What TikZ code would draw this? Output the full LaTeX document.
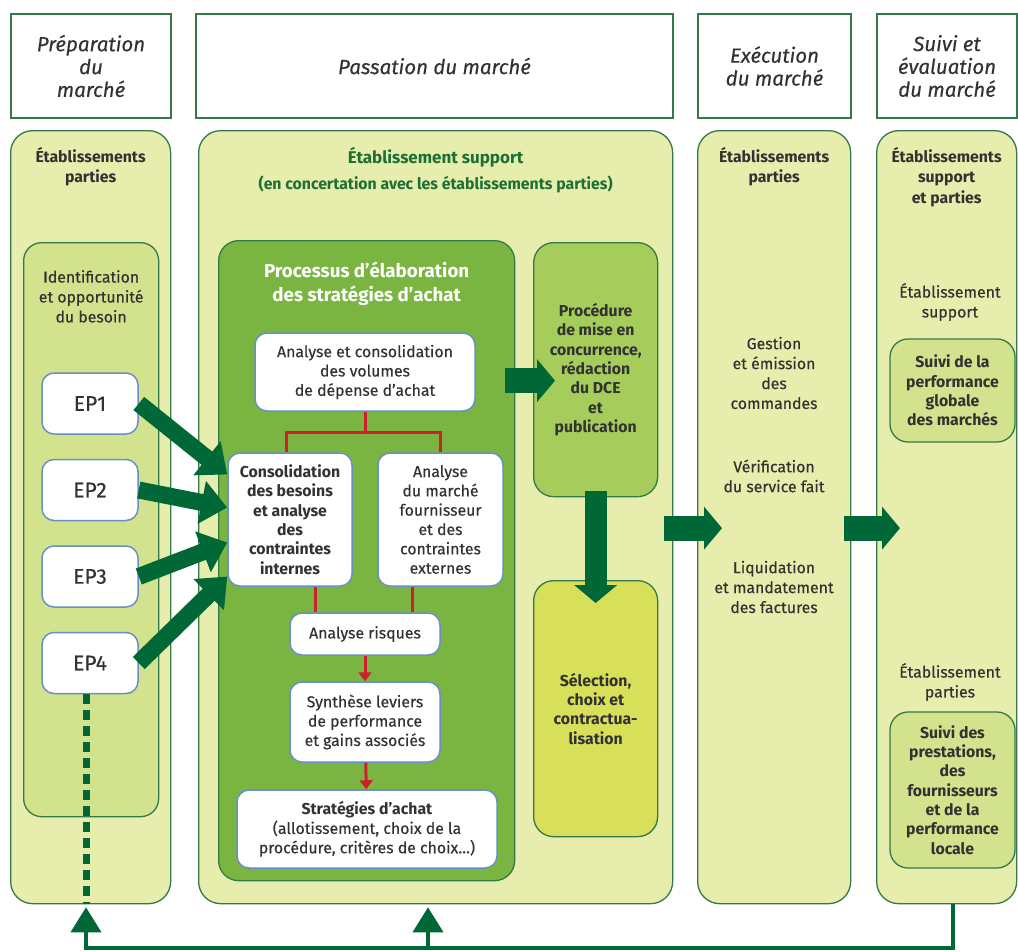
\documentclass[tikz,border=0pt]{standalone}
\usepackage{fontspec}
\setmainfont{Fira Sans}[UprightFeatures={FakeBold=0.35}, ItalicFeatures={FakeBold=0.35}]
\usetikzlibrary{positioning, arrows.meta}
\newlength\pxu
\setlength\pxu{0.03cm}
\definecolor{lanefill}{RGB}{231,237,172}
\definecolor{innerfill}{RGB}{211,226,140}
\definecolor{procfill}{RGB}{122,181,66}
\definecolor{callfill}{RGB}{166,205,92}
\definecolor{selfill}{RGB}{216,224,90}
\definecolor{edgegreen}{RGB}{52,122,72}
\definecolor{arrowgreen}{RGB}{0,104,55}
\definecolor{titlegreen}{RGB}{28,112,52}
\definecolor{boxblue}{RGB}{104,144,196}
\definecolor{linkred}{RGB}{204,32,44}
\definecolor{ink}{RGB}{50,50,50}
\tikzset{
x=1\pxu, y=-1\pxu, % one unit = one pixel of the layout, y runs down
phase/.style={draw=edgegreen, line width=2\pxu, fill=white, anchor=north west, align=center, text=ink, font=\itshape\fontsize{17.5}{19.5}\selectfont}, % header boxes
lane/.style={draw=edgegreen, line width=1.3\pxu, fill=lanefill, rounded corners=22\pxu, anchor=north west}, % the four columns
inlane/.style={draw=edgegreen, line width=1.3\pxu, fill=innerfill, rounded corners=18\pxu, align=center, text=ink, font=\bfseries\fontsize{13.5}{16.5}\selectfont},
lanetitle/.style={font=\bfseries\fontsize{13.5}{17.5}\selectfont, text=ink, align=center, inner sep=0pt},
plain/.style={font=\fontsize{13.5}{17}\selectfont, text=ink, align=center, inner sep=0pt},
task/.style={draw=boxblue, line width=1.5\pxu, fill=white, rounded corners=12\pxu, align=center, text=ink, font=\fontsize{13.5}{16.5}\selectfont, inner sep=2pt},
epbox/.style={task, minimum width=96\pxu, minimum height=61\pxu, font=\fontsize{18}{20}\selectfont},
bigarrow/.style={draw=arrowgreen, line width=25\pxu, -{Triangle[width=1.26cm, length=0.54cm]}},
eparrow/.style={draw=arrowgreen, line width=17\pxu, -{Triangle[width=1.26cm, length=0.78cm]}},
redline/.style={draw=linkred, line width=3\pxu},
redarrow/.style={redline, -{Triangle[width=0.39cm, length=0.27cm]}},
fbline/.style={draw=arrowgreen, line width=4\pxu},
fbarrow/.style={fbline, -{Triangle[width=0.9cm, length=0.75cm]}},
}
\begin{document}
\begin{tikzpicture}
\useasboundingbox (0,0) rectangle (1018,951);

% phases
\node[phase, minimum width=160\pxu, minimum height=104\pxu] (ph1) at (10,13) {Préparation\\du\\marché};
\node[phase, minimum width=477\pxu, minimum height=104\pxu] (ph2) at (195,13) {Passation du marché};
\node[phase, minimum width=153\pxu, minimum height=104\pxu] (ph3) at (697,13) {Exécution\\du marché};
\node[phase, minimum width=140\pxu, minimum height=104\pxu] (ph4) at (876,13) {Suivi et\\évaluation\\du marché};

% columns
\node[lane, minimum width=160\pxu, minimum height=773\pxu] (lane1) at (10,130) {};
\node[lane, minimum width=474\pxu, minimum height=773\pxu] (lane2) at (198,130) {};
\node[lane, minimum width=153\pxu, minimum height=773\pxu] (lane3) at (697,130) {};
\node[lane, minimum width=140\pxu, minimum height=773\pxu] (lane4) at (876,130) {};

\node[lanetitle, below=17\pxu of lane1.north] {Établissements\\parties};
\node[lanetitle, text=titlegreen, below=17\pxu of lane2.north, font=\bfseries\fontsize{14.5}{22}\selectfont] {Établissement support\\\fontsize{13.5}{14}\selectfont(en concertation avec les établissements parties)};
\node[lanetitle, below=17\pxu of lane3.north] {Établissements\\parties};
\node[lanetitle, below=17\pxu of lane4.north] {Établissements\\support\\et parties};

% preparation
\node[inlane, anchor=north west, minimum width=135\pxu, minimum height=574\pxu] (need) at (23,242) {};
\node[plain, below=28\pxu of need.north, font=\fontsize{13.5}{17}\selectfont] {Identification\\et opportunité\\du besoin};
\node[epbox] (ep1) at (90,403.5) {EP1};
\node[epbox, below=24\pxu of ep1] (ep2) {EP2};
\node[epbox, below=24\pxu of ep2] (ep3) {EP3};
\node[epbox, below=24\pxu of ep3] (ep4) {EP4};

% strategy process
\node[draw=edgegreen, line width=1.3\pxu, fill=procfill, rounded corners=20\pxu, anchor=north west, minimum width=296\pxu, minimum height=640\pxu] (proc) at (218,240) {};
\node[lanetitle, text=white, below=22\pxu of proc.north, font=\bfseries\fontsize{16}{20}\selectfont] {Processus d’élaboration\\des stratégies d’achat};
\node[task, minimum width=220\pxu, minimum height=78\pxu] (volumes) at (365,372) {Analyse et consolidation\\des volumes\\de dépense d’achat};
\node[task, minimum width=124\pxu, minimum height=133\pxu, font=\bfseries\fontsize{13.5}{16.5}\selectfont] (cons) at (290,519.5) {Consolidation\\des besoins\\et analyse\\des\\contraintes\\internes};
\node[task, minimum width=125\pxu, minimum height=133\pxu] (market) at (440.5,519.5) {Analyse\\du marché\\fournisseur\\et des\\contraintes\\externes};
\node[task, minimum width=150\pxu, minimum height=42\pxu] (risk) at (365,634) {Analyse risques};
\node[task, minimum width=150\pxu, minimum height=80\pxu] (synth) at (365,722) {Synthèse leviers\\de performance\\et gains associés};
\node[task, minimum width=260\pxu, minimum height=78\pxu] (strat) at (367,829) {\textbf{Stratégies d’achat}\\(allotissement, choix de la\\procédure, critères de choix…)};

% tender and award
\node[inlane, fill=callfill, anchor=north west, minimum width=124\pxu, minimum height=254\pxu, rounded corners=20\pxu] (call) at (533,242) {Procédure\\de mise en\\concurrence,\\rédaction\\du DCE\\et\\publication};
\node[inlane, fill=selfill, anchor=north west, minimum width=124\pxu, minimum height=256\pxu, rounded corners=20\pxu] (award) at (533,580) {Sélection,\\choix et\\contractua-\\lisation};

% execution
\node[plain] (orders) at (774,373) {Gestion\\et émission\\des\\commandes};
\node[plain] (check) at (774,476) {Vérification\\du service fait};
\node[plain] (pay) at (774,587) {Liquidation\\et mandatement\\des factures};

% follow-up
\node[plain] (sup) at (950,302) {Établissement\\support};
\node[inlane, minimum width=125\pxu, minimum height=103\pxu] (global) at (952.5,390.5) {Suivi de la\\performance\\globale\\des marchés};
\node[plain] (par) at (950,682) {Établissement\\parties};
\node[inlane, minimum width=125\pxu, minimum height=156\pxu] (local) at (952.5,790) {Suivi des\\prestations,\\des\\fournisseurs\\et de la\\performance\\locale};

% red links
\draw[redline] (volumes.south) -- ++(0,21) coordinate (split);
\draw[redline] (split) -| ([xshift=-4\pxu]cons.north);
\draw[redline] (split) -| (market.north);
\draw[redline] ([xshift=25\pxu]cons.south) -- ([xshift=25\pxu]cons.south |- risk.north);
\draw[redline] ([xshift=-28\pxu]market.south) -- ([xshift=-28\pxu]market.south |- risk.north);
\draw[redarrow] (risk) -- (synth);
\draw[redarrow] (synth) -- (strat);

% big arrows
\draw[eparrow] (ep1.east) -- ([yshift=45\pxu]cons.west);
\draw[eparrow] (ep2.east) -- ([yshift=12\pxu]cons.west);
\draw[eparrow] (ep3.east) -- ([yshift=-23\pxu]cons.west);
\draw[eparrow] (ep4.east) -- ([yshift=-57\pxu]cons.west);
\draw[bigarrow] ([shift={(-28\pxu,-11\pxu)}]call.west) -- ([shift={(22\pxu,-11\pxu)}]call.west);
\draw[bigarrow, line width=22\pxu] ([yshift=6\pxu]call.south) -- ([yshift=-23\pxu]award.north);
\draw[bigarrow] ([shift={(-9\pxu,-11\pxu)}]lane2.east) -- ([shift={(25\pxu,-11\pxu)}]lane3.west);
\draw[bigarrow] ([shift={(-7\pxu,-11\pxu)}]lane3.east) -- ([shift={(24\pxu,-11\pxu)}]lane4.west);

% feedback
\draw[draw=arrowgreen, line width=7\pxu, dash pattern=on 10\pxu off 6\pxu] ([xshift=-4\pxu]ep4.south) -- ([xshift=-4\pxu]ep4.south |- lane1.south);
\coordinate (fb) at (0,948);
\coordinate (up2) at (428,948);
\draw[fbarrow] ([xshift=6\pxu]lane4.south) |- ([xshift=-4\pxu]fb -| ep4.south) -- ([xshift=-4\pxu, yshift=-3\pxu]ep4.south |- lane1.south);
\draw[fbarrow] (up2) -- ([yshift=-3\pxu]up2 |- lane2.south);
\end{tikzpicture}
\end{document}
